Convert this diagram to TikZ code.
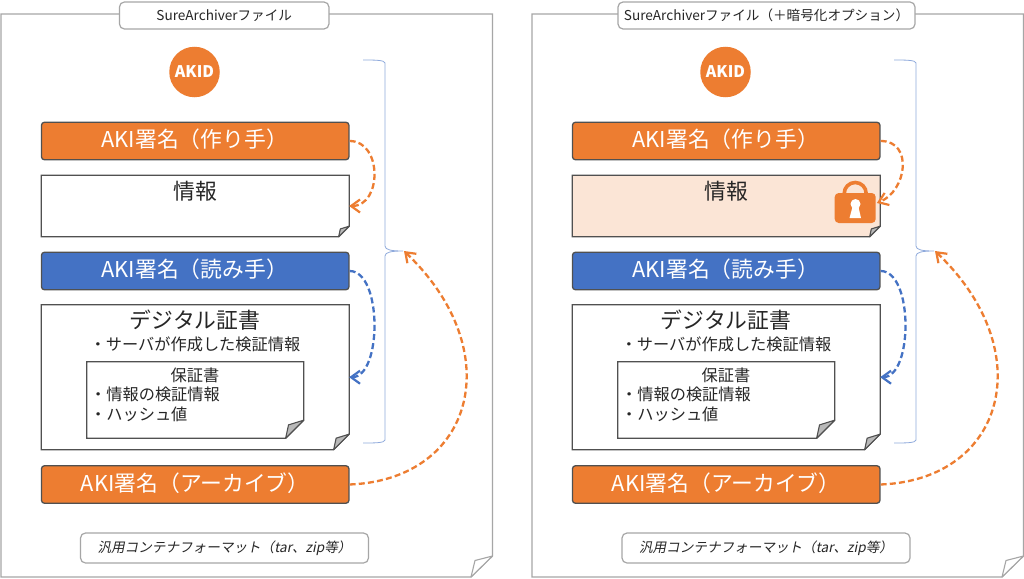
\documentclass[tikz,border=0pt]{standalone}
\usepackage{fontspec}
\setmainfont{Noto Sans CJK JP}
\newfontfamily\slantfont[FakeSlant=0.2]{Noto Sans CJK JP}
\usetikzlibrary{calc,arrows.meta}
\definecolor{akiorange}{HTML}{ED7D31}
\definecolor{akiblue}{HTML}{4472C4}
\definecolor{infotint}{HTML}{FBE5D6}
\definecolor{bracecol}{HTML}{8FAADC}
\definecolor{edgecol}{HTML}{505050}
\definecolor{pagecol}{HTML}{A6A6A6}
\definecolor{inkcol}{HTML}{262626}
% outline of a sheet with a turned corner, around a named node
\newcommand{\sheetoutline}[4]{
  \draw[#2,line width=1.3pt,fill=#3] (#1.north west) -- (#1.north east) -- ([yshift=#4pt]#1.south east) -- ([xshift=-#4pt]#1.south east) -- (#1.south west) -- cycle;
  \draw[#2,line width=1.1pt,fill=#2!40!white,line join=round] ([yshift=#4pt]#1.south east) -- ([shift={(-0.84*#4,-0.74*#4)}]#1.south east) -- ([xshift=-#4pt]#1.south east) -- cycle;
}
\begin{document}
\begin{tikzpicture}[x=1pt,y=-1pt,
    signbox/.style={draw=edgecol,line width=1.3pt,rounded corners=3pt,minimum width=307.5pt,minimum height=37.5pt,inner sep=0pt},
    signtext/.style={inner sep=0pt,text=white,font=\fontsize{21.8}{22}\selectfont},
    sheetnode/.style={minimum width=#1,inner sep=0pt},
    bigtext/.style={inner sep=0pt,text=inkcol,font=\fontsize{21.8}{22}\selectfont},
    smalltext/.style={inner sep=0pt,text=inkcol,font=\fontsize{16.2}{16}\selectfont},
    tagbox/.style={draw=pagecol,line width=1.2pt,rounded corners=5pt,fill=white,inner sep=0pt,text=inkcol},
    linkarrow/.style={-{Straight Barb[length=9pt,width=13pt,line width=2.2pt]},dash pattern=on 6pt off 3.2pt,line width=2.3pt}]
  \useasboundingbox (0,0) rectangle (1024,578);
  \fill[white] (0,0) rectangle (1024,578);

  \foreach \p/\dx/\infofill in {l/0/white,r/531/infotint}{
    \begin{scope}[shift={(\dx,0)}]
      % outer page
      \draw[pagecol,line width=1.1pt,fill=white] (1,14) -- (492.5,14) -- (492.5,556) -- (471,577) -- (1,577) -- cycle;
      \draw[pagecol,line width=1.1pt,fill=white,line join=round] (492.5,556) -- (475,560.5) -- (471,577) -- cycle;

      \node[circle,fill=akiorange,minimum size=50.5pt,inner sep=0pt,text=white,font=\fontsize{16}{16}\bfseries\selectfont] (akid\p) at (194.5,72) {AKID};

      \node[signbox,fill=akiorange] (signmake\p) at (195.2,141) {};
      \node[sheetnode=307.5pt,minimum height=61pt] (info\p) at (195.2,206) {};
      \sheetoutline{info\p}{edgecol}{\infofill}{10.5}
      \node[signbox,fill=akiblue] (signread\p) at (195.2,271) {};
      \node[sheetnode=307.5pt,minimum height=144.5pt] (cert\p) at (195.2,377.2) {};
      \sheetoutline{cert\p}{edgecol}{white}{15.5}
      \node[sheetnode=216.5pt,minimum height=76pt] (warrant\p) at (195.2,400) {};
      \sheetoutline{warrant\p}{edgecol}{white}{18}
      \node[signbox,fill=akiorange] (signarch\p) at (195.2,484.5) {};

      \node[signtext] (makelabel\p) at (194.7,139) {AKI署名（作り手）};
      \node[signtext] (readlabel\p) at (194.7,269) {AKI署名（読み手）};
      \node[signtext] (archlabel\p) at (195.2,483) {AKI署名（アーカイブ）};
      \node[bigtext] (infolabel\p) at (195,191) {情報};
      \node[bigtext] (certlabel\p) at (195,320) {デジタル証書};
      \node[smalltext] (certline\p) at (195,344) {・サーバが作成した検証情報};
      \node[smalltext] (warrantlabel\p) at (195,375) {保証書};
      \node[smalltext,anchor=west] (warrantone\p) at (90,394) {・情報の検証情報};
      \node[smalltext,anchor=west] (warranttwo\p) at (90,414) {・ハッシュ値};

      % brace
      \draw[bracecol,line width=.8pt] (363,60) .. controls (374,60) and (385,60) .. (385,63) -- (385,246) .. controls (385,250) and (392,251) .. (403,251) .. controls (392,251) and (385,252) .. (385,256) -- (385,440) .. controls (385,443) and (374,443) .. (363,443);
      \coordinate (bracetip\p) at (404,251);
    \end{scope}
  }

  \node[tagbox,minimum width=209.5pt,minimum height=27pt,font=\fontsize{13.6}{14}\selectfont] (titlel) at (224.2,15.5) {SureArchiverファイル};
  \node[tagbox,minimum width=297pt,minimum height=27pt,font=\fontsize{13.6}{14}\selectfont] (titler) at (766.5,15.5) {SureArchiverファイル（＋暗号化オプション）};
  \node[tagbox,minimum width=288pt,minimum height=30pt,font=\fontsize{13.6}{14}\slantfont] (formatl) at (224.5,548) {汎用コンテナフォーマット（tar、zip等）};
  \node[tagbox,minimum width=288pt,minimum height=30pt,font=\fontsize{13.6}{14}\slantfont] (formatr) at (766,548) {汎用コンテナフォーマット（tar、zip等）};

  % lock on the encrypted sheet
  \draw[akiorange,line width=3.6pt] (844.2,196) -- (844.2,193.5) arc[start angle=180,end angle=360,radius=11] -- (866.2,196);
  \node[fill=akiorange,rounded corners=4pt,minimum width=41pt,minimum height=30pt,inner sep=0pt] (lockr) at (855.2,208) {};
  \fill[white] (855.5,204) circle[radius=5];
  \fill[white] (853,205) -- (858,205) -- (861,218) -- (849.5,218) -- cycle;

  \draw[linkarrow,akiorange] (signmakel.east) .. controls +(33,0) and +(33,0) .. (infol.east);
  \draw[linkarrow,akiorange] (signmaker.east) .. controls +(33,0) and +(30,-12) .. ($(lockr.east)+(1,-5)$);
  \foreach \p in {l,r}{
    \draw[linkarrow,akiblue] (signread\p.east) .. controls +(33,0) and +(33,0) .. (cert\p.east);
    \draw[linkarrow,akiorange] (signarch\p.east) .. controls +(125,-5) and +(105,100) .. (bracetip\p);
  }
\end{tikzpicture}
\end{document}
